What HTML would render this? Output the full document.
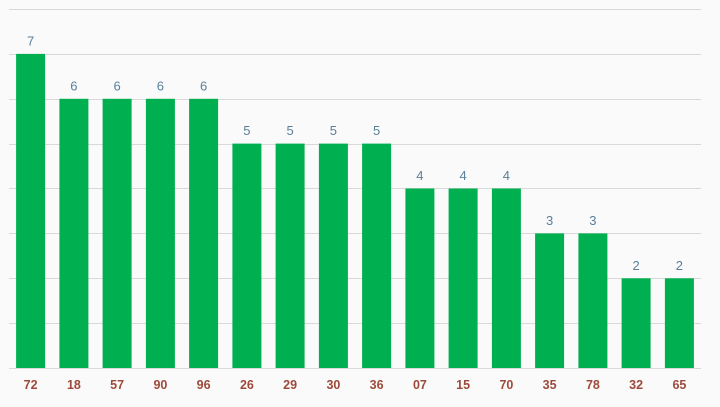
<!DOCTYPE html>
<html><head><meta charset="utf-8"><style>
html,body{margin:0;padding:0;background:#fafafa;}
svg{display:block;}
</style></head><body>
<svg width="720" height="407" viewBox="0 0 720 407" xmlns="http://www.w3.org/2000/svg">
<rect x="0" y="0" width="720" height="407" fill="#fafafa"/>
<g stroke="#d9d9d9" stroke-width="1">
<line x1="9" x2="701" y1="9.5" y2="9.5"/>
<line x1="9" x2="701" y1="54.5" y2="54.5"/>
<line x1="9" x2="701" y1="99.5" y2="99.5"/>
<line x1="9" x2="701" y1="144.5" y2="144.5"/>
<line x1="9" x2="701" y1="188.5" y2="188.5"/>
<line x1="9" x2="701" y1="233.5" y2="233.5"/>
<line x1="9" x2="701" y1="278.5" y2="278.5"/>
<line x1="9" x2="701" y1="323.5" y2="323.5"/>
<line x1="9" x2="701" y1="368.5" y2="368.5"/>
</g>
<g fill="#00b050">
<rect x="16.1" y="53.9" width="29" height="314.1"/>
<rect x="59.4" y="98.8" width="29" height="269.2"/>
<rect x="102.6" y="98.8" width="29" height="269.2"/>
<rect x="145.9" y="98.8" width="29" height="269.2"/>
<rect x="189.1" y="98.8" width="29" height="269.2"/>
<rect x="232.4" y="143.6" width="29" height="224.4"/>
<rect x="275.6" y="143.6" width="29" height="224.4"/>
<rect x="318.9" y="143.6" width="29" height="224.4"/>
<rect x="362.1" y="143.6" width="29" height="224.4"/>
<rect x="405.4" y="188.5" width="29" height="179.5"/>
<rect x="448.6" y="188.5" width="29" height="179.5"/>
<rect x="491.9" y="188.5" width="29" height="179.5"/>
<rect x="535.1" y="233.4" width="29" height="134.6"/>
<rect x="578.4" y="233.4" width="29" height="134.6"/>
<rect x="621.6" y="278.3" width="29" height="89.7"/>
<rect x="664.9" y="278.3" width="29" height="89.7"/>
</g>
<g font-family="Liberation Sans, sans-serif" font-size="13" fill="#5a7f99" text-anchor="middle">
<text x="30.6" y="45.5">7</text>
<text x="73.9" y="90.3">6</text>
<text x="117.1" y="90.3">6</text>
<text x="160.4" y="90.3">6</text>
<text x="203.6" y="90.3">6</text>
<text x="246.9" y="135.1">5</text>
<text x="290.1" y="135.1">5</text>
<text x="333.4" y="135.1">5</text>
<text x="376.6" y="135.1">5</text>
<text x="419.9" y="180">4</text>
<text x="463.1" y="180">4</text>
<text x="506.4" y="180">4</text>
<text x="549.6" y="224.9">3</text>
<text x="592.9" y="224.9">3</text>
<text x="636.1" y="269.8">2</text>
<text x="679.4" y="269.8">2</text>
</g>
<g font-family="Liberation Sans, sans-serif" font-size="12.5" font-weight="bold" fill="#9c4a3a" text-anchor="middle">
<text x="30.6" y="389">72</text>
<text x="73.9" y="389">18</text>
<text x="117.1" y="389">57</text>
<text x="160.4" y="389">90</text>
<text x="203.6" y="389">96</text>
<text x="246.9" y="389">26</text>
<text x="290.1" y="389">29</text>
<text x="333.4" y="389">30</text>
<text x="376.6" y="389">36</text>
<text x="419.9" y="389">07</text>
<text x="463.1" y="389">15</text>
<text x="506.4" y="389">70</text>
<text x="549.6" y="389">35</text>
<text x="592.9" y="389">78</text>
<text x="636.1" y="389">32</text>
<text x="679.4" y="389">65</text>
</g>
</svg>
</body></html>
